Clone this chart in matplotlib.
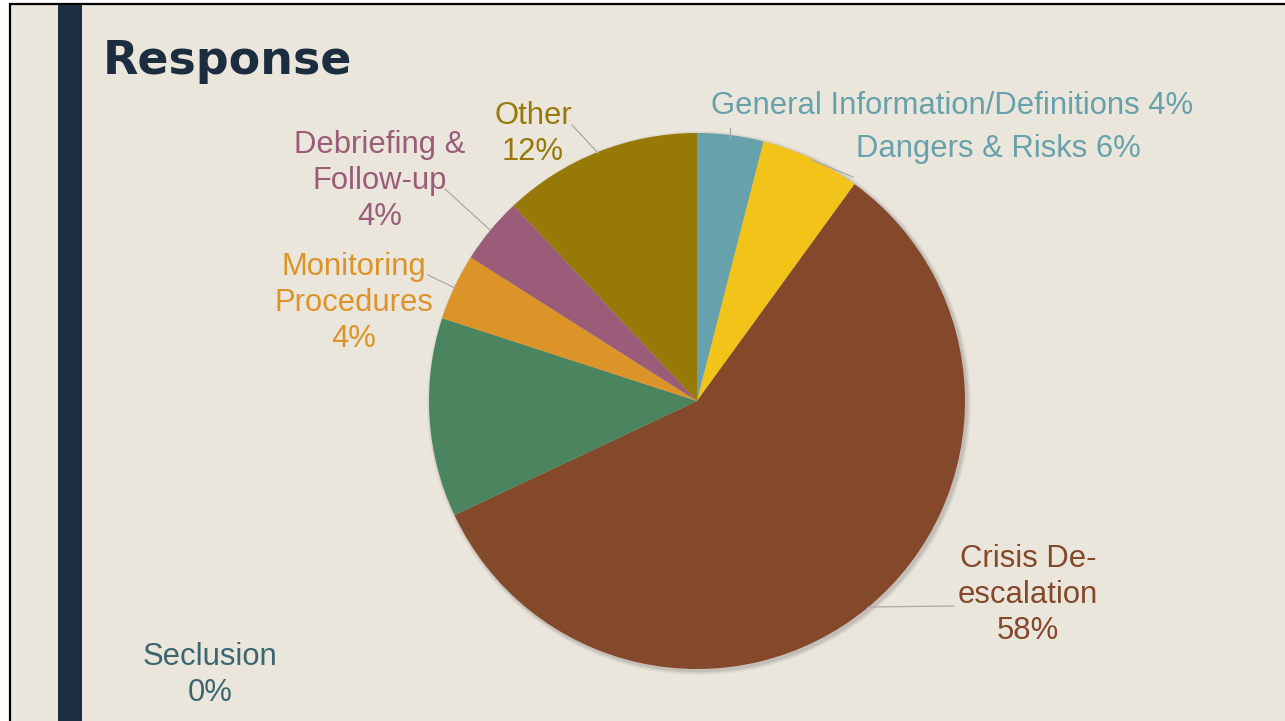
import matplotlib
matplotlib.use('Agg')
import matplotlib.pyplot as plt
from matplotlib.patches import Rectangle, Circle

# data
labels = ['General Information/Definitions', 'Dangers & Risks', 'Crisis De-\nescalation',
          'Seclusion', 'Restraint\nProcedures', 'Monitoring\nProcedures',
          'Debriefing &\nFollow-up', 'Other']
values = [4, 6, 58, 0, 12, 4, 4, 12]
colors = ['#67a1ab', '#f2c318', '#84482b', '#3b6b73', '#4a855f', '#dc9428', '#9a5c78', '#977908']
label_colors = ['#67a1ab', '#67a1ab', '#84482b', '#3b6670', '#4b8760', '#dc9428', '#9a5c78', '#977908']

W, H = 1285, 721
BG = '#ebe6dc'

fig = plt.figure(figsize=(W / 100, H / 100), dpi=100)
fig.patch.set_facecolor('white')
ax = fig.add_axes([0, 0, 1, 1])
ax.set_xlim(0, W)
ax.set_ylim(0, H)
ax.set_aspect('equal')
ax.axis('off')

def Y(y):
    # image row -> data y
    return H - y

# slide background + border + navy bar
ax.add_patch(Rectangle((10, -10), W + 10, Y(4) + 10, facecolor=BG, edgecolor='black', lw=1.6, zorder=0))
ax.add_patch(Rectangle((58, -10), 24, Y(5) + 10, facecolor='#1b2d3f', edgecolor='none', zorder=1))

ax.text(103, Y(62), 'Response', fontsize=33, fontweight='heavy', color='#1b2d3f',
        family=['DejaVu Sans'], va='center', ha='left', zorder=5)

cx, cy, r = 697, Y(401), 268

# soft shadow behind pie
for i, a in enumerate([0.05, 0.05, 0.04, 0.03]):
    ax.add_patch(Circle((cx + 2, cy - 2), r + 1 + i, facecolor='#000000', alpha=a, edgecolor='none', zorder=2))

ax.pie(values, colors=colors, startangle=90, counterclock=False, center=(cx, cy), radius=r,
       wedgeprops=dict(linewidth=0, zorder=3), frame=True)
ax.set_xlim(0, W)
ax.set_ylim(0, H)
ax.axis('off')

font = ['Liberation Sans Narrow', 'Liberation Sans', 'DejaVu Sans']
fs = 22.3

def lab(i, x, y, ha='center'):
    txt = labels[i]
    if '\n' in txt:
        txt = txt + '\n' + f'{values[i]}%'
    else:
        txt = txt + f' {values[i]}%' if i < 3 else txt + f'\n{values[i]}%'
    ax.text(x, Y(y), txt, color=label_colors[i], fontsize=fs, family=font,
            ha=ha, va='center', multialignment='center', linespacing=1.28, zorder=6)

lab(0, 952, 106)
lab(1, 998, 149)
lab(2, 1028, 595)
lab(3, 210, 675)
lab(4, 510, 415)
lab(5, 354, 303)
lab(6, 380, 181)
lab(7, 533, 134)

# leader lines
lc = '#a9a9a9'
for (x0, y0), (x1, y1) in [((730, 128), (730, 137)),
                           ((812, 160), (853, 177)),
                           ((868, 607), (954, 606)),
                           ((428, 275), (455, 288)),
                           ((445, 189), (490, 230)),
                           ((572, 125), (598, 153))]:
    ax.plot([x0, x1], [Y(y0), Y(y1)], color=lc, lw=0.9, zorder=4)

fig.savefig('out.png', dpi=100, facecolor='white')
